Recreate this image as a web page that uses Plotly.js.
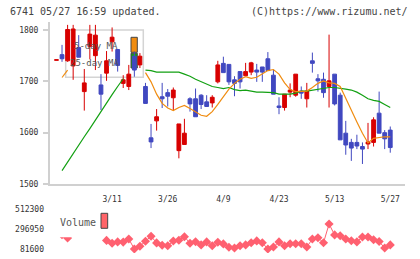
<!DOCTYPE html>
<html>
<head>
<meta charset="utf-8">
<script src="https://cdn.plot.ly/plotly-3.0.1.min.js"></script>
<style>html,body{margin:0;padding:0;background:#fff}#chart{width:420px;height:259px}</style>
</head>
<body>
<div id="chart"></div>
<script>
// ---- data ----
const dates = ['2/26','2/27','2/28','2/29','3/1','3/4','3/5','3/6','3/7','3/8',
'3/11','3/12','3/13','3/14','3/15','3/18','3/19','3/21','3/22','3/25','3/26',
'3/27','3/28','3/29','4/1','4/2','4/3','4/4','4/5','4/8','4/9',
'4/10','4/11','4/12','4/15','4/16','4/17','4/18','4/19','4/22','4/23',
'4/24','4/25','4/26','4/30','5/1','5/7','5/8','5/9','5/10','5/13',
'5/14','5/15','5/16','5/17','5/20','5/21','5/22','5/23','5/24','5/27'];

const open  = [1741,1752,1740,1730,1766,1680,1768,1750,1693,1716,
1777,1762,1696,1690,1749,1732,1690,1590,1623,1670,1678,
1668,1565,1577,1666,1666,1673,1660,1658,1699,1735,
1733,1703,1719,1711,1718,1722,1728,1744,1712,1652,
1649,1679,1673,1681,1666,1740,1705,1704,1690,1714,
1673,1599,1581,1581,1573,1578,1581,1638,1600,1605];
const high  = [1742,1771,1810,1810,1790,1724,1810,1810,1714,1759,
1805,1762,1712,1732,1758,1755,1697,1617,1646,1697,1685,
1688,1617,1627,1669,1686,1675,1673,1673,1740,1748,
1733,1710,1719,1736,1738,1734,1728,1757,1723,1669,
1675,1696,1714,1690,1697,1756,1714,1717,1791,1714,
1678,1623,1588,1596,1581,1619,1630,1680,1605,1612];
const low   = [1741,1738,1738,1703,1747,1643,1743,1722,1644,1701,
1758,1719,1687,1683,1709,1726,1657,1570,1604,1648,1651,
1644,1550,1577,1641,1631,1646,1651,1649,1696,1717,
1693,1671,1686,1711,1712,1699,1699,1721,1675,1636,
1643,1669,1670,1666,1649,1717,1680,1668,1649,1653,
1586,1557,1545,1568,1539,1568,1573,1599,1568,1561];
const close = [1742,1744,1801,1802,1747,1697,1792,1790,1675,1740,
1786,1731,1703,1714,1722,1749,1657,1582,1631,1666,1671,
1683,1617,1599,1656,1631,1655,1651,1669,1732,1717,
1699,1696,1699,1719,1736,1718,1718,1721,1675,1649,
1675,1683,1714,1677,1681,1735,1701,1678,1701,1656,
1586,1576,1570,1574,1568,1582,1625,1599,1588,1571];

const ma5 = [null,1707.5,1722,null,null,null,null,null,null,null,
null,null,null,null,null,null,1717,1699,1675,1657,1648,
1643,1649,1653,1647,1640,1634,1632,1641,1655,1671,
1685,1696,1704,1709,1706,1708,1714,1721,1723,1714,
1697,1684,1680,1680,1681,1688,1696,1701,1697,1696,
1690,1667,1643,1621,1599,1580,1589,1591,1592,1592];

const ma25 = [null,1526,1543,1558,1576,1592,1608,1625,1640,1657,
1674,1690,1705,null,null,null,1722,1721,1718,1718,1718,
1718,1718,1714,1710,1704,1699,1695,1690,1688,1686,
1688,1684,1682,1683,1681,1679,1679,1679,1678,1675,
1675,1675,1677,1681,1681,1683,1684,1686,1688,1688,
1687,1685,1683,1679,1673,1666,1663,1661,1655,1649];

const volume = [null,235600,200000,null,null,null,null,null,null,174200,
144100,158000,155900,189300,81600,111700,165600,219400,147300,122500,117100,
167700,176400,214000,144100,160200,125700,158000,117100,154800,136500,
101000,92400,117100,125700,149400,168800,149400,81600,103100,158000,
117100,138700,138700,138700,103100,189300,203300,149400,350800,233400,
224800,189300,171000,158000,210800,210800,181700,162400,92400,125700];

const labelDates = ['3/11','3/26','4/9','4/23','5/13','5/27'];
const priceTicks = [1500,1600,1700,1800];
const volTicks = [81600,296950,512300];
const volTickText = ['81600','296950','512300'];

// ---- layout helpers ----
const W = 420, H = 259, L = 50, R = 15, T = 22, B = 6;
const pw = W - L - R, ph = H - T - B;
const PX = px => (px - L) / pw;
const PY = py => (H - B - py) / ph;
const mono = 'DejaVu Sans Mono, monospace';
const axisGray = '#d0d0d0';
const xr = [-1.163, 62.65];
const evenTicks = [0,1,2,3,4,5,6,7,8,9,10,11];

const traces = [
  {type:'scatter', mode:'lines', x:dates, y:ma25, xaxis:'x', yaxis:'y',
   line:{color:'#12a012', width:1.2}, connectgaps:false, hoverinfo:'skip'},
  {type:'scatter', mode:'lines', x:dates, y:ma5, xaxis:'x', yaxis:'y',
   line:{color:'#f08c10', width:1.2}, connectgaps:false, hoverinfo:'skip'},
  {type:'candlestick', x:dates, open:open, high:high, low:low, close:close,
   xaxis:'x', yaxis:'y', whiskerwidth:0,
   increasing:{line:{color:'#d80000', width:1}, fillcolor:'#d80000'},
   decreasing:{line:{color:'#4048c0', width:1}, fillcolor:'#4048c0'}},
  {type:'scatter', mode:'lines+markers', x:dates, y:volume, xaxis:'x2', yaxis:'y2',
   line:{color:'#ff6070', width:1}, connectgaps:false,
   marker:{symbol:'diamond', size:7, color:'#ff6070'}}
];

const layout = {
  width:W, height:H, margin:{l:L, r:R, t:T, b:B},
  paper_bgcolor:'#fff', plot_bgcolor:'rgba(0,0,0,0)', showlegend:false,
  boxgap:0.32, boxgroupgap:0,
  font:{family:mono, size:8, color:'#333'},
  xaxis:{type:'category', domain:[0,1], anchor:'y', range:xr,
    tickmode:'array', tickvals:labelDates, ticktext:labelDates, ticks:'',
    showline:true, linecolor:axisGray, linewidth:2, showgrid:false, zeroline:false,
    tickfont:{family:mono, size:8, color:'#333'}, ticklabelstandoff:6,
    rangeslider:{visible:false}, fixedrange:true},
  xaxis3:{overlaying:'x', anchor:'y', side:'bottom', range:[0,11],
    tickmode:'array', tickvals:evenTicks, ticks:'outside', ticklen:5, tickwidth:2,
    tickcolor:axisGray, showticklabels:false, showline:false, showgrid:false, zeroline:false},
  xaxis4:{overlaying:'x', anchor:'y', side:'bottom', range:[0,11],
    tickmode:'array', tickvals:evenTicks, ticks:'inside', ticklen:4, tickwidth:2,
    tickcolor:axisGray, showticklabels:false, showline:false, showgrid:false, zeroline:false},
  yaxis:{domain:[PY(184),1], anchor:'x', range:[1500,1815.6],
    tickmode:'array', tickvals:priceTicks, ticks:'outside', ticklen:5, tickwidth:2,
    tickcolor:axisGray, showline:true, linecolor:axisGray, linewidth:2,
    showgrid:false, zeroline:false, ticklabelstandoff:3,
    tickfont:{family:mono, size:8, color:'#333'}, fixedrange:true},
  yaxis3:{overlaying:'y', anchor:'x', side:'left', range:[1500,1815.6],
    tickmode:'array', tickvals:priceTicks, ticks:'inside', ticklen:3, tickwidth:2,
    tickcolor:axisGray, showticklabels:false, showline:false, showgrid:false, zeroline:false},
  xaxis2:{type:'category', domain:[0,1], anchor:'y2', range:xr, visible:false, fixedrange:true},
  yaxis2:{domain:[0,PY(205)], anchor:'x2', range:[38530,555370],
    tickmode:'array', tickvals:volTicks, ticktext:volTickText, ticks:'',
    showline:false, showgrid:false, zeroline:false, ticklabelstandoff:5,
    tickfont:{family:mono, size:8, color:'#333'}, fixedrange:true},
  shapes:[
    {type:'rect', xref:'paper', yref:'paper', layer:'below',
     x0:PX(65.7), x1:PX(143.3), y0:PY(77.3), y1:PY(30),
     line:{color:'#d4d4d4', width:1.5}, fillcolor:'rgba(0,0,0,0)'},
    {type:'rect', xref:'paper', yref:'paper', layer:'below',
     x0:PX(131), x1:PX(137.3), y0:PY(52.3), y1:PY(37.3),
     line:{color:'#444', width:1}, fillcolor:'#f08c10'},
    {type:'rect', xref:'paper', yref:'paper', layer:'below',
     x0:PX(131), x1:PX(137.3), y0:PY(68), y1:PY(53.3),
     line:{color:'#444', width:1}, fillcolor:'#12a012'},
    {type:'rect', xref:'paper', yref:'paper', layer:'above',
     x0:PX(51), x1:PX(102), y0:PY(237.3), y1:PY(200),
     line:{width:0}, fillcolor:'#fff'},
    {type:'rect', xref:'paper', yref:'paper', layer:'above',
     x0:PX(101), x1:PX(107.7), y0:PY(228.3), y1:PY(213.3),
     line:{color:'#444', width:1}, fillcolor:'#ff6468'}
  ],
  annotations:[
    {xref:'paper', yref:'paper', x:PX(8), y:PY(12), xanchor:'left', yanchor:'middle',
     text:'6741 05/27 16:59 updated.', showarrow:false, font:{family:mono, size:10, color:'#444'}},
    {xref:'paper', yref:'paper', x:PX(410), y:PY(12), xanchor:'right', yanchor:'middle',
     text:'(C)https://www.rizumu.net/', showarrow:false, font:{family:mono, size:10, color:'#444'}},
    {xref:'paper', yref:'paper', x:PX(120), y:PY(46), xanchor:'right', yanchor:'middle',
     text:'5-day MA', showarrow:false, font:{family:mono, size:9, color:'#555'}},
    {xref:'paper', yref:'paper', x:PX(120.5), y:PY(62.5), xanchor:'right', yanchor:'middle',
     text:'25-day MA', showarrow:false, font:{family:mono, size:9, color:'#555'}},
    {xref:'paper', yref:'paper', x:PX(58), y:PY(222.3), xanchor:'left', yanchor:'middle',
     text:'Volume', showarrow:false, font:{family:mono, size:10, color:'#555'}}
  ]
};

Plotly.newPlot('chart', traces, layout, {staticPlot:true, displayModeBar:false});
</script>
</body>
</html>
